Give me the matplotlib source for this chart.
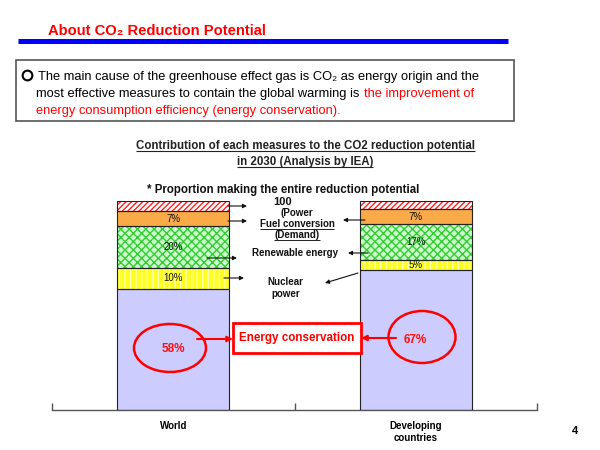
import matplotlib
matplotlib.use('Agg')
import matplotlib.pyplot as plt
from matplotlib import font_manager as fm
from matplotlib.patches import Rectangle, Ellipse


def has_font(name):
    try:
        fm.findfont(fm.FontProperties(family=name), fallback_to_default=False)
        return True
    except Exception:
        return False


SANS = ['Liberation Sans', 'DejaVu Sans']
HAS_NARROW = has_font('Liberation Sans Narrow')

# ---------------- data ----------------
categories = ['World', 'Developing\ncountries']
segments = ['Energy conservation', 'Nuclear power', 'Renewable energy',
            'Fuel conversion (Demand)', 'Power']
world = [58, 10, 20, 7, 5]
developing = [67, 5, 17, 7, 4]
world_labels = ['58%', '10%', '20%', '7%', '']
developing_labels = ['67%', '5%', '17%', '7%', '']

# styles per segment (face, hatch, hatch colour)
styles = [
    ('#ccccff', None, '#ccccff'),
    ('#ffff22', '|||', '#ffffb0'),
    ('#ccffcc', 'xxxx', '#33cc33'),
    ('#fbaa48', None, '#fbaa48'),
    ('#ffffff', '//////', '#ff2020'),
]

fig = plt.figure(figsize=(6, 4.5), dpi=100)
fig.patch.set_facecolor('white')

# ---------------- bar axes ----------------
ax = fig.add_axes([52 / 600, 40 / 450, 485 / 600, 209 / 450])
ax.set_xlim(-0.5, 1.5)
ax.set_ylim(0, 100)
ax.patch.set_alpha(0)
xs = [0, 1]
width = 0.46
bottoms = [0, 0]
for i, seg in enumerate(segments):
    vals = [world[i], developing[i]]
    face, hatch, hc = styles[i]
    ax.bar(xs, vals, width, bottom=bottoms, color=face, hatch=hatch,
           edgecolor=hc, linewidth=0, zorder=2)
    ax.bar(xs, vals, width, bottom=bottoms, fill=False,
           edgecolor='#222222', linewidth=0.8, zorder=3)
    for j, lab in enumerate([world_labels[i], developing_labels[i]]):
        if not lab:
            continue
        yc = bottoms[j] + vals[j] / 2
        if i == 0:
            ax.text(xs[j], yc, lab, ha='center', va='center', color='#ff1010',
                    fontsize=8.5, fontweight='bold', family=SANS, zorder=5)
        else:
            ax.text(xs[j], yc, lab, ha='center', va='center', color='#111111',
                    fontsize=7, family=SANS, zorder=5)
    bottoms = [bottoms[0] + vals[0], bottoms[1] + vals[1]]

for s in ['left', 'right', 'top']:
    ax.spines[s].set_visible(False)
ax.spines['bottom'].set_color('#555555')
ax.spines['bottom'].set_linewidth(1)
ax.set_yticks([])
ax.set_xticks(xs)
ax.set_xticklabels(categories, fontsize=7, fontweight='bold', family=SANS)
ax.set_xticks([-0.5, 0.5, 1.5], minor=True)
ax.tick_params(axis='x', which='major', length=0, pad=8)
ax.tick_params(axis='x', which='minor', direction='in', length=5,
               color='#555555', width=1)

# ---------------- overlay (pixel coordinates) ----------------
ov = fig.add_axes([0, 0, 1, 1], zorder=5)
ov.set_xlim(0, 600)
ov.set_ylim(450, 0)
ov.axis('off')
ov.patch.set_alpha(0)

# header
if HAS_NARROW:
    ov.text(48, 35, 'About CO\u2082 Reduction Potential', color='#ff0000',
            fontsize=12.5, fontweight='bold',
            family=['Liberation Sans Narrow', 'DejaVu Sans'], va='baseline')
else:
    ov.text(48, 35, 'About CO\u2082 Reduction Potential', color='#ff0000',
            fontsize=10.6, fontweight='bold', family=SANS, va='baseline')
ov.plot([18, 508], [40.5, 40.5], color='#0000ff', lw=3.6,
        solid_capstyle='butt')

# text box
ov.add_patch(Rectangle((16, 60), 498, 61, facecolor='white',
                       edgecolor='#555555', lw=1.2))
ov.plot([27], [75], marker='o', ms=7, mfc='none', mec='black', mew=1.5)
body = dict(fontsize=9.3, family=SANS, va='baseline')
ov.text(38, 80, 'The main cause of the greenhouse effect gas is CO\u2082 as '
        'energy origin and the', **body)
t2 = ov.text(36, 97, 'most effective measures to contain the global '
             'warming is', **body)
ov.annotate('the improvement of', xy=(1, 0), xycoords=t2, xytext=(5, 0),
            textcoords='offset pixels', va='bottom', ha='left',
            fontsize=9.3, family=SANS, color='#ff0000')
ov.text(36, 114, 'energy consumption efficiency (energy conservation).',
        color='#ff0000', **body)

# subtitles
st1 = ov.text(305, 149.5, 'Contribution of each measures to the CO2 '
              'reduction potential', fontsize=8.3, fontweight='bold',
              family=SANS, ha='center', va='baseline', color='#222222')
st2 = ov.text(305, 165.5, 'in 2030 (Analysis by IEA)', fontsize=8.3,
              fontweight='bold', family=SANS, ha='center', va='baseline',
              color='#222222')
ov.text(283, 193.5, '* Proportion making the entire reduction potential',
        fontsize=8.3, fontweight='bold', family=SANS, ha='center',
        va='baseline', color='#111111')
ov.text(283, 205, '100', fontsize=8, fontweight='bold', family=SANS,
        ha='center', va='baseline', color='#111111')

# middle labels
mid = dict(fontsize=7, fontweight='bold', family=SANS, ha='center',
           va='baseline', color='#111111')
ov.text(297, 216, '(Power', **mid)
fc = ov.text(297, 227, 'Fuel conversion', **mid)
dm = ov.text(297, 238, '(Demand)', **mid)
ov.text(295, 256, 'Renewable energy', **mid)
ov.text(285, 285, 'Nuclear', **mid)
ov.text(286, 297, 'power', **mid)

# black arrows
arrows = [((228, 206), (247, 206)), ((228, 221), (247, 221)),
          ((207, 258), (237, 258)), ((224, 278), (244, 278)),
          ((365, 220), (343, 220)), ((368, 253), (348, 253)),
          ((358, 273), (325, 283))]
for (x0, y0), (x1, y1) in arrows:
    ov.annotate('', xy=(x1, y1), xytext=(x0, y0),
                arrowprops=dict(arrowstyle='-|>', color='#111111', lw=0.8,
                                mutation_scale=6, shrinkA=0, shrinkB=0))

# energy conservation box
ov.add_patch(Rectangle((233, 323), 128, 30, facecolor='white',
                       edgecolor='#ff0000', lw=2))
ov.text(297, 338, 'Energy conservation', fontsize=8.4, fontweight='bold',
        family=SANS, ha='center', va='center', color='#ff0000')
ov.add_patch(Ellipse((170, 348), 72, 48, facecolor='none',
                     edgecolor='#ff0000', lw=1.8))
ov.add_patch(Ellipse((422, 337), 67, 52, facecolor='none',
                     edgecolor='#ff0000', lw=1.8))
for (x0, y0), (x1, y1) in [((197, 339), (233, 339)),
                           ((396, 338), (361, 338))]:
    ov.annotate('', xy=(x1, y1), xytext=(x0, y0),
                arrowprops=dict(arrowstyle='-|>', color='#ff0000', lw=1.5,
                                mutation_scale=8, shrinkA=0, shrinkB=0))

# page number
ov.text(575, 434, '4', fontsize=8, fontweight='bold', family=SANS,
        ha='center', va='baseline')

# underlines
fig.canvas.draw()
r = fig.canvas.get_renderer()
inv = ov.transData.inverted()


def underline(t, off=1.5, lw=0.8, color='#222222'):
    bb = t.get_window_extent(r)
    (xa, _), (xb, _) = inv.transform([(bb.x0, bb.y0), (bb.x1, bb.y1)])
    y = t.get_position()[1] + off
    ov.plot([xa, xb], [y, y], color=color, lw=lw, solid_capstyle='butt')


underline(st1)
underline(st2)
underline(fc, off=1.5, lw=0.7)
underline(dm, off=1.5, lw=0.7)

fig.savefig('out.png', dpi=100)
